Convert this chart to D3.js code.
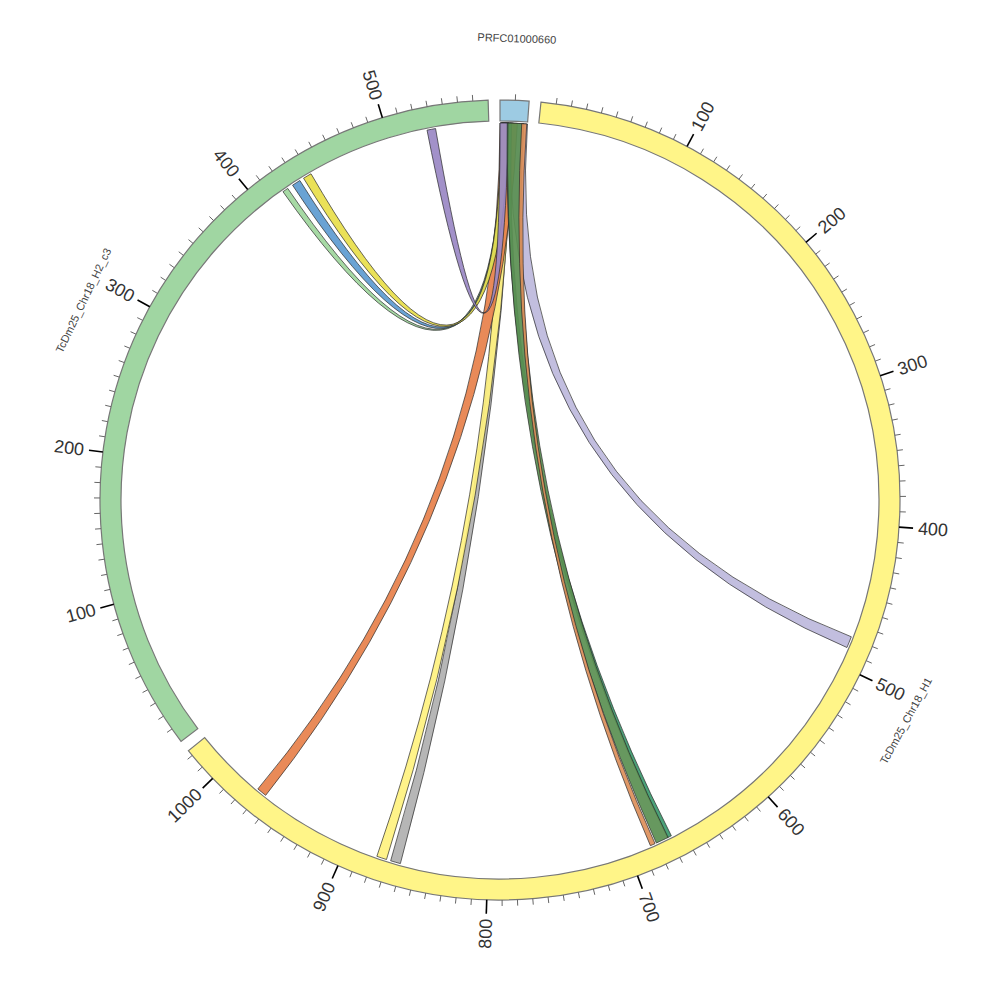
<!DOCTYPE html>
<html><head><meta charset="utf-8">
<script src="https://cdn.jsdelivr.net/npm/d3@7"></script>
<style>body{margin:0;background:#fff}</style>
</head><body>
<svg id="chart" width="1000" height="1000"></svg>
<script>
// ---- data ----
const segNames   = ["PRFC01000660", "TcDm25_Chr18_H1", "TcDm25_Chr18_H2_c3"];
const segLengths = [19, 1024, 570];
const segColors  = ["#9dcbe3", "#fff588", "#a0d6a2"];

// links: all originate on segment 0 (PRFC01000660); listed in drawing order
const linkSrcStart = [7,    0.5,  1,    0,    1,    1,    0.5,  0,    5,     5.5,  15];
const linkSrcEnd   = [19,   9,    9.5,  12,   5,    6,    6,    6,    8,     16.5, 18.5];
const linkTgtSeg   = [1,    1,    1,    1,    2,    2,    2,    2,    1,     1,    1];
const linkTgtStart = [479,  861,  871,  966,  418,  426,  435,  527,  668.5, 671,  681];
const linkTgtEnd   = [487,  868,  878,  973,  422,  432,  441,  533,  671.5, 680,  684.5];
const linkColors   = ["#bdb9dc","#b0b0b0","#fff27f","#e7804a","#9ed69c","#5d9bd0",
                      "#e8de4a","#9a88c4","#3c9a6e","#5a8f51","#dd8f5a"];

// ---- layout ----
const cx = 500, cy = 500;
const rIn = 379, rOut = 400, rLink = 377;
const gapDeg = 1.7;
const toRad = d => d * Math.PI / 180;
const degPerUnit = (360 - gapDeg * segLengths.length) / d3.sum(segLengths);

let cur = 0;
const segScales = segLengths.map(len => {
  const s = d3.scaleLinear().domain([0, len]).range([toRad(cur), toRad(cur + len * degPerUnit)]);
  cur += len * degPerUnit + gapDeg;
  return s;
});

const svg = d3.select("#chart");
const g = svg.append("g").attr("transform", `translate(${cx},${cy})`);

// links
const ribbon = d3.ribbon().radius(rLink);
const linkG = g.append("g");
linkSrcStart.forEach((s, i) => {
  const src = segScales[0], tgt = segScales[linkTgtSeg[i]];
  linkG.append("path")
    .attr("d", ribbon({
      source: {startAngle: src(linkSrcStart[i]), endAngle: src(linkSrcEnd[i])},
      target: {startAngle: tgt(linkTgtStart[i]), endAngle: tgt(linkTgtEnd[i])}
    }))
    .attr("fill", linkColors[i])
    .attr("fill-opacity", 0.92)
    .attr("stroke", "#2a2a2a")
    .attr("stroke-width", 0.7);
});

// segments
const arc = d3.arc().innerRadius(rIn).outerRadius(rOut);
segLengths.forEach((len, i) => {
  const s = segScales[i];
  g.append("path")
    .attr("d", arc({startAngle: s(0), endAngle: s(len)}))
    .attr("fill", segColors[i])
    .attr("stroke", "#777")
    .attr("stroke-width", 1.2);
});

// ticks
segLengths.forEach((len, i) => {
  const s = segScales[i];
  d3.range(10, len, 10).forEach(v => {
    const a = s(v);
    const major = v % 100 === 0;
    const r2 = major ? 414 : 406;
    g.append("line")
      .attr("x1", rOut * Math.sin(a)).attr("y1", -rOut * Math.cos(a))
      .attr("x2", r2 * Math.sin(a)).attr("y2", -r2 * Math.cos(a))
      .attr("stroke", major ? "#000" : "#666")
      .attr("stroke-width", major ? 1.6 : 1);
    if (major) {
      const deg = a * 180 / Math.PI;
      const flip = deg > 180;
      g.append("text")
        .attr("transform", `rotate(${deg - 90}) translate(419,0)${flip ? " rotate(180)" : ""}`)
        .attr("text-anchor", flip ? "end" : "start")
        .attr("dominant-baseline", "central")
        .attr("font-family", "Liberation Sans, Arial, sans-serif")
        .attr("font-size", 18)
        .attr("fill", "#333")
        .text(v);
    }
  });
});

// segment labels
segLengths.forEach((len, i) => {
  const s = segScales[i];
  const a = (s(0) + s(len)) / 2;
  const deg = a * 180 / Math.PI;
  const flip = deg > 90 && deg < 270;
  const r = 462;
  g.append("text")
    .attr("transform", `translate(${r * Math.sin(a)},${-r * Math.cos(a)}) rotate(${flip ? deg - 180 : deg})`)
    .attr("text-anchor", "middle")
    .attr("dominant-baseline", "central")
    .attr("font-family", "Liberation Sans, Arial, sans-serif")
    .attr("font-size", 11)
    .attr("fill", "#444")
    .text(segNames[i]);
});
</script>
</body></html>
